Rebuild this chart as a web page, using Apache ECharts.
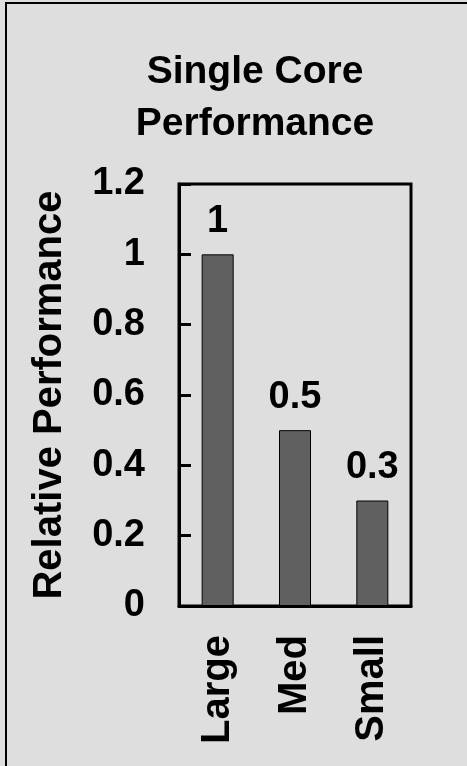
<!DOCTYPE html>
<html>
<head>
<meta charset="utf-8">
<style>
  html, body { margin: 0; padding: 0; background: #dedede; }
  #chart { width: 467px; height: 766px; }
</style>
<script src="https://cdn.jsdelivr.net/npm/echarts@6/dist/echarts.min.js"></script>
</head>
<body>
<div id="chart"></div>
<script>
// Relative single-core performance of three core sizes
const categories = ['Large', 'Med', 'Small'];
const performance = [1, 0.5, 0.3];
const yTicks = [0, 0.2, 0.4, 0.6, 0.8, 1, 1.2];

const FONT = '"Liberation Sans", Arial, sans-serif';

const chart = echarts.init(document.getElementById('chart'), null, { renderer: 'canvas' });

chart.setOption({
  backgroundColor: '#dedede',
  animation: false,
  graphic: [{
    type: 'rect',
    shape: { x: 6, y: 3, width: 520, height: 820 },
    style: { fill: 'none', stroke: '#000', lineWidth: 2 },
    silent: true,
    z: 0
  }],
  title: {
    text: 'Single Core\nPerformance',
    left: 250,
    top: 41,
    textAlign: 'center',
    textStyle: {
      fontFamily: FONT, fontWeight: 'bold', fontSize: 39,
      lineHeight: 52, color: '#000'
    }
  },
  grid: {
    left: 179, top: 184, right: 56, bottom: 160,
    show: true, borderColor: '#000', borderWidth: 3,
    containLabel: false
  },
  xAxis: {
    type: 'category',
    data: categories,
    axisLine: { lineStyle: { color: '#000', width: 3 } },
    axisTick: { inside: true, length: 11, lineStyle: { color: '#000', width: 3 } },
    axisLabel: {
      rotate: 90, margin: 29, color: '#000',
      fontFamily: FONT, fontWeight: 'bold', fontSize: 40
    },
    splitLine: { show: false }
  },
  yAxis: {
    type: 'value',
    min: 0, max: 1.2, interval: 0.2,
    name: 'Relative Performance',
    nameLocation: 'middle',
    nameGap: 109,
    nameTextStyle: {
      fontFamily: FONT, fontWeight: 'bold', fontSize: 40, color: '#000'
    },
    axisLine: { show: true, lineStyle: { color: '#000', width: 3 } },
    axisTick: { show: true, inside: true, length: 12, lineStyle: { color: '#000', width: 3 } },
    axisLabel: {
      margin: 34, color: '#000',
      fontFamily: FONT, fontWeight: 'bold', fontSize: 38,
      formatter: v => {
        const t = yTicks.find(x => Math.abs(x - v) < 1e-9);
        return t === undefined ? '' : String(t);
      }
    },
    splitLine: { show: false }
  },
  series: [{
    type: 'bar',
    data: performance,
    barWidth: 32,
    itemStyle: { color: '#606060', borderColor: '#000', borderWidth: 1 },
    label: {
      show: true, position: 'top', distance: 14, color: '#000',
      fontFamily: FONT, fontWeight: 'bold', fontSize: 38
    }
  }]
});
</script>
</body>
</html>
